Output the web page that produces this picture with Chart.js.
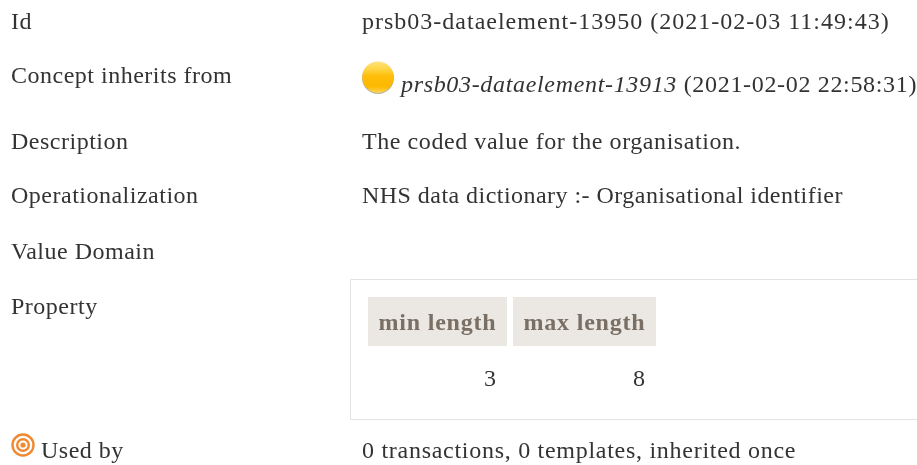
<!DOCTYPE html>
<html>
<head>
<meta charset="utf-8">
<title>prsb03-dataelement-13950</title>
<script src="https://cdn.jsdelivr.net/npm/chart.js@4"></script>
<style>
  html, body { margin: 0; padding: 0; background: #fff; overflow: hidden; }
  #wrap { position: relative; width: 917px; height: 465px; }
</style>
</head>
<body>
<div id="wrap"><canvas id="page"></canvas></div>
<script>
// Rows of the data element sheet.
const rowLabels = ["Id", "Concept inherits from", "Description", "Operationalization", "Value Domain", "Property", "Used by"];
const rowValues = [
  "prsb03-dataelement-13950 (2021-02-03 11:49:43)",
  "",
  "The coded value for the organisation.",
  "NHS data dictionary :- Organisational identifier",
  "",
  "",
  "0 transactions, 0 templates, inherited once",
];
const inheritedName = "prsb03-dataelement-13913";
const inheritedDate = " (2021-02-02 22:58:31)";
const propertyNames = ["min length", "max length"];
const propertyValues = [3, 8];

// Layout, in page pixels. The axes below run 1:1 with the window.
const ROW_Y = [29, 83, 149, 203, 259, 314, 458];
const VALUE_SPACING = ["1px", "0px", "0.57px", "0.46px", "0px", "0px", "0.72px"];
const INHERITED_Y = 92;
const LABEL_X = 11;
const USED_BY_X = 41;
const VALUE_X = 362;
const INHERITED_X = 401;
const BOX = { left: 350, top: 279, bottom: 419 };
const HEAD_TOP = 297;
const HEAD_BOTTOM = 346;
const HEAD_BASE = 330;
const HEAD_X = [[368, 507], [513, 656]];
const VALUE_RIGHT = [496, 645];
const CELL_BASE = 386;

const TEXT = "#333333";
const FONT = '"Liberation Serif", serif';
const BODY = "24px " + FONT;

function yellowIcon() {
  const c = document.createElement("canvas");
  c.width = c.height = 34;
  const g = c.getContext("2d");
  // grey shadow under the ball
  g.fillStyle = "#b9b4a6";
  g.beginPath();
  g.arc(17, 17, 16, 0, Math.PI * 2);
  g.fill();
  const grad = g.createLinearGradient(0, 1, 0, 32);
  grad.addColorStop(0, "#ffe27a");
  grad.addColorStop(0.25, "#ffd33f");
  grad.addColorStop(0.45, "#ffbd0a");
  grad.addColorStop(0.8, "#fdb800");
  grad.addColorStop(1, "#ffd75a");
  g.fillStyle = grad;
  g.beginPath();
  g.arc(17, 16.2, 15.7, 0, Math.PI * 2);
  g.fill();
  return c;
}

function targetIcon() {
  const c = document.createElement("canvas");
  c.width = c.height = 24;
  const g = c.getContext("2d");
  g.strokeStyle = "#f08a32";
  g.lineWidth = 2.4;
  [10.5, 5.8].forEach((r) => {
    g.beginPath();
    g.arc(12, 12, r, 0, Math.PI * 2);
    g.stroke();
  });
  g.fillStyle = "#f08a32";
  g.beginPath();
  g.arc(12, 12, 2.6, 0, Math.PI * 2);
  g.fill();
  return c;
}

function put(ctx, str, x, y, font, color, spacing, align) {
  ctx.font = font;
  ctx.fillStyle = color;
  ctx.letterSpacing = spacing;
  ctx.textAlign = align || "left";
  ctx.textBaseline = "alphabetic";
  ctx.fillText(str, x, y);
  return ctx.measureText(str).width;
}

const sheetPlugin = {
  id: "sheet",
  beforeDatasetsDraw(chart) {
    const { ctx, scales } = chart;
    const px = (v) => scales.x.getPixelForValue(v);
    const py = (v) => scales.y.getPixelForValue(v);
    ctx.save();

    // box round the property table, open on the right
    ctx.strokeStyle = "#e2e2e2";
    ctx.lineWidth = 1;
    ctx.beginPath();
    ctx.moveTo(px(917), py(BOX.top) + 0.5);
    ctx.lineTo(px(BOX.left) + 0.5, py(BOX.top) + 0.5);
    ctx.lineTo(px(BOX.left) + 0.5, py(BOX.bottom) + 0.5);
    ctx.lineTo(px(917), py(BOX.bottom) + 0.5);
    ctx.stroke();

    propertyNames.forEach((name, i) => {
      const [a, b] = HEAD_X[i];
      ctx.fillStyle = "#ebe7e3";
      ctx.fillRect(px(a), py(HEAD_TOP), b - a, HEAD_BOTTOM - HEAD_TOP);
      put(ctx, name, px((a + b) / 2), py(HEAD_BASE), "bold 24px " + FONT, "#7a6f64", "0.8px", "center");
      put(ctx, String(propertyValues[i]), px(VALUE_RIGHT[i]), py(CELL_BASE), BODY, TEXT, "0px", "right");
    });

    rowLabels.forEach((label, i) => {
      const x = label === "Used by" ? USED_BY_X : LABEL_X;
      put(ctx, label, px(x), py(ROW_Y[i]), BODY, TEXT, "0.5px");
      if (rowValues[i]) put(ctx, rowValues[i], px(VALUE_X), py(ROW_Y[i]), BODY, TEXT, VALUE_SPACING[i]);
    });

    // concept row mixes an italic name with the plain date
    const w = put(ctx, inheritedName, px(INHERITED_X), py(INHERITED_Y), "italic 24px " + FONT, TEXT, "0.67px");
    put(ctx, inheritedDate, px(INHERITED_X) + w, py(INHERITED_Y), BODY, TEXT, "0.67px");
    ctx.restore();
  },
};

new Chart(document.getElementById("page"), {
  type: "scatter",
  data: {
    datasets: [
      { data: [{ x: 378, y: 78 }], pointStyle: yellowIcon(), pointRadius: 17 },
      { data: [{ x: 23, y: 445 }], pointStyle: targetIcon(), pointRadius: 12 },
    ],
  },
  options: {
    responsive: true,
    maintainAspectRatio: false,
    animation: false,
    layout: { padding: 0, autoPadding: false },
    events: [],
    plugins: { legend: { display: false }, tooltip: { enabled: false } },
    scales: {
      x: { type: "linear", display: false, min: 0, max: 917 },
      y: { type: "linear", display: false, min: 0, max: 465, reverse: true },
    },
  },
  plugins: [sheetPlugin],
});
</script>
</body>
</html>
